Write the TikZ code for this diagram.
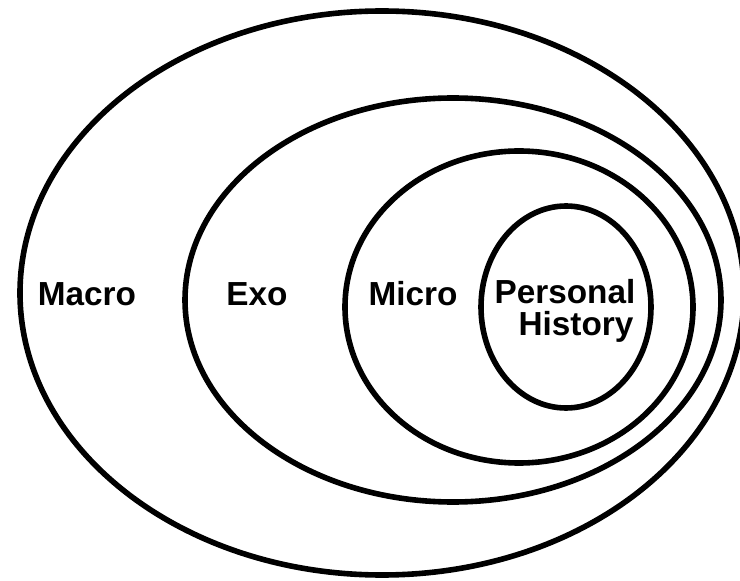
\documentclass[tikz,border=0pt]{standalone}
\usepackage{fontspec}
\setmainfont{Liberation Sans}
\begin{document}
\begin{tikzpicture}[x=0.75pt,y=-0.75pt,
  ring/.style={line width=4.2pt},
  lbl/.style={font=\fontsize{25}{25}\selectfont\bfseries, inner sep=0pt, anchor=base, text height=18.5pt}]
\useasboundingbox (0,0) rectangle (740,581);
\clip (0,0) rectangle (740,581);
% Macro (outer)
\draw[ring] (382,293) ellipse [x radius=362, y radius=282];
% Exo
\draw[ring] (453,300) ellipse [x radius=268, y radius=202];
% Micro
\draw[ring] (519,307) ellipse [x radius=174, y radius=156];
% Personal History
\draw[ring] (566,307) ellipse [x radius=85, y radius=101];
% labels
\node[lbl] (macro) at (87,306) {Macro};
\node[lbl] (exo) at (257,306) {Exo};
\node[lbl] (micro) at (413,306) {Micro};
\node[lbl, text depth=0pt] (pers) at (565,304) {Personal};
\node[lbl] (hist) at (576,335) {History};
\end{tikzpicture}
\end{document}
